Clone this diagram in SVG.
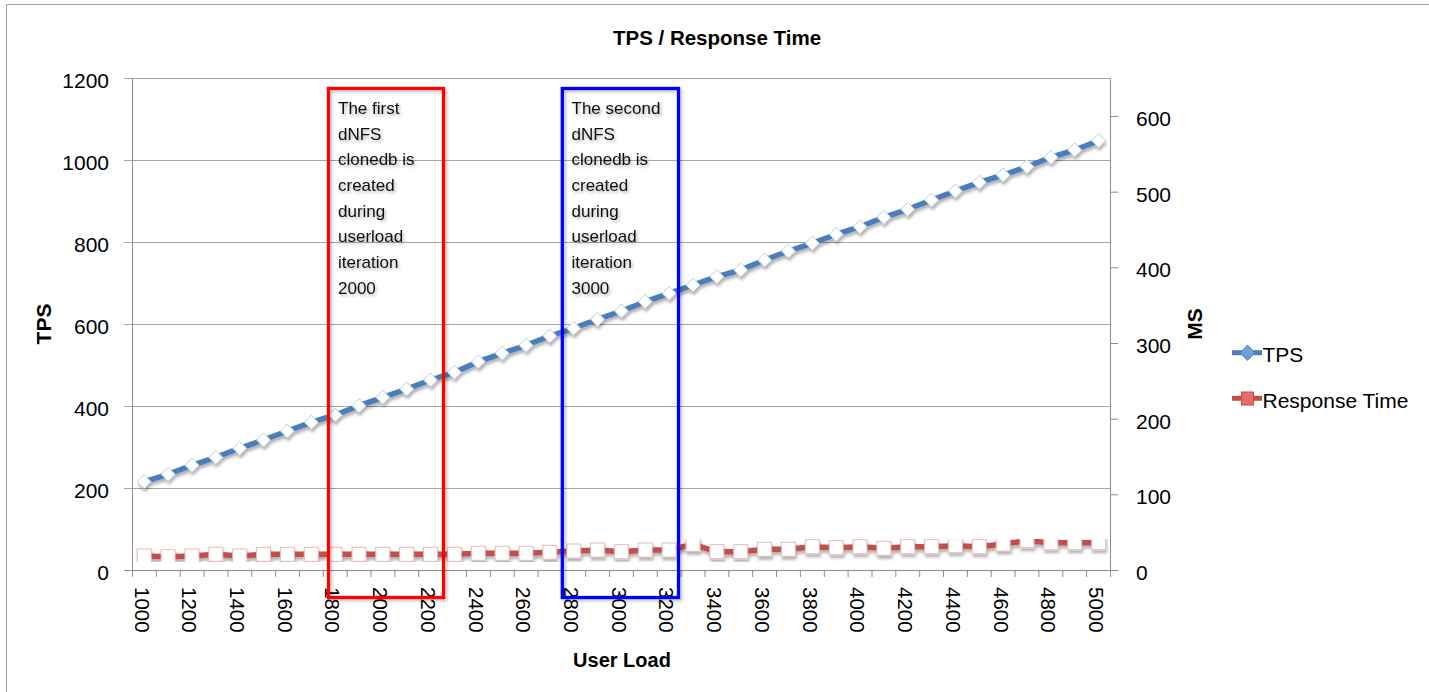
<svg xmlns="http://www.w3.org/2000/svg" width="1429" height="692" viewBox="0 0 1429 692">
<style>
  .grid { stroke: #a6a6a6; stroke-width: 1; fill: none; }
  .axis { stroke: #8c8c8c; stroke-width: 1; fill: none; }
  .tick { font-family: "Liberation Sans", Arial, sans-serif; font-size: 21px; fill: #000; }
  .xt { font-family: "Liberation Sans", Arial, sans-serif; font-size: 20.5px; fill: #000; }
  .ttl { font-family: "Liberation Sans", Arial, sans-serif; font-weight: bold; fill: #000; }
  .note { font-family: "Liberation Sans", Arial, sans-serif; font-size: 17px; fill: #111; }
  .leg { font-family: "Liberation Sans", Arial, sans-serif; font-size: 21px; fill: #000; }
</style>
<defs>
  <filter id="sh" x="-10%" y="-10%" width="130%" height="140%">
    <feDropShadow dx="1" dy="3" stdDeviation="1.5" flood-color="#000" flood-opacity="0.3"/>
  </filter>
  <filter id="bsh" x="-10%" y="-5%" width="130%" height="120%">
    <feDropShadow dx="2" dy="2" stdDeviation="1.5" flood-color="#000" flood-opacity="0.25"/>
  </filter>
  <filter id="tsh" x="-10%" y="-10%" width="130%" height="130%">
    <feDropShadow dx="1.5" dy="2" stdDeviation="1.5" flood-color="#000" flood-opacity="0.3"/>
  </filter>
  <marker id="mDia" markerUnits="userSpaceOnUse" markerWidth="18" markerHeight="18" refX="9" refY="9" overflow="visible">
    <path d="M9,2 L16,9 L9,16 L2,9 Z" fill="#ffffff" stroke="#b9cde5" stroke-width="1"/>
  </marker>
  <marker id="mSq" markerUnits="userSpaceOnUse" markerWidth="18" markerHeight="18" refX="9" refY="9" overflow="visible">
    <rect x="2" y="2" width="14" height="14" fill="#ffffff" stroke="#e6b9b8" stroke-width="1"/>
  </marker>
</defs>

<rect x="0" y="0" width="1429" height="692" fill="#ffffff"/>
<!-- outer border -->
<path d="M6.5,700 L6.5,4.5 L1429,4.5" fill="none" stroke="#a0a0a0" stroke-width="1"/>

<!-- title -->
<text class="ttl" x="717" y="45" font-size="20.5" text-anchor="middle">TPS / Response Time</text>

<!-- grid and axes -->
<g id="grid">
  <path class="grid" d="M124,78.5 H1110.5 M124,160.5 H1110.5 M124,242.5 H1110.5 M124,324.5 H1110.5 M124,406.5 H1110.5 M124,488.5 H1110.5"/>
  <path class="axis" d="M124,570.5 H1110.5 M132.5,78.5 V577 M1110.5,78.5 V577"/>
  <path class="axis" d="M1110.5,570.5 H1118 M1110.5,494.8 H1118 M1110.5,419.2 H1118 M1110.5,343.5 H1118 M1110.5,267.8 H1118 M1110.5,192.2 H1118 M1110.5,116.5 H1118"/>
  <path class="axis" d="M132.5,570.5 V577 M156.4,570.5 V577 M180.2,570.5 V577 M204.1,570.5 V577 M227.9,570.5 V577 M251.8,570.5 V577 M275.6,570.5 V577 M299.5,570.5 V577 M323.3,570.5 V577 M347.2,570.5 V577 M371,570.5 V577 M394.9,570.5 V577 M418.7,570.5 V577 M442.6,570.5 V577 M466.4,570.5 V577 M490.3,570.5 V577 M514.2,570.5 V577 M538,570.5 V577 M561.9,570.5 V577 M585.7,570.5 V577 M609.6,570.5 V577 M633.4,570.5 V577 M657.3,570.5 V577 M681.1,570.5 V577 M705,570.5 V577 M728.8,570.5 V577 M752.7,570.5 V577 M776.5,570.5 V577 M800.4,570.5 V577 M824.3,570.5 V577 M848.1,570.5 V577 M872,570.5 V577 M895.8,570.5 V577 M919.7,570.5 V577 M943.5,570.5 V577 M967.4,570.5 V577 M991.2,570.5 V577 M1015.1,570.5 V577 M1038.9,570.5 V577 M1062.8,570.5 V577 M1086.6,570.5 V577"/>
</g>

<!-- left axis labels -->
<g id="left-axis" class="tick" text-anchor="end">
  <text x="109" y="88">1200</text>
  <text x="109" y="170">1000</text>
  <text x="109" y="252">800</text>
  <text x="109" y="334">600</text>
  <text x="109" y="416">400</text>
  <text x="109" y="498">200</text>
  <text x="109" y="580">0</text>
</g>
<text class="ttl" font-size="21" text-anchor="middle" transform="translate(51,324) rotate(-90)">TPS</text>

<!-- right axis labels -->
<g id="right-axis" class="tick">
  <text x="1136" y="580">0</text>
  <text x="1136" y="504.3">100</text>
  <text x="1136" y="428.7">200</text>
  <text x="1136" y="353">300</text>
  <text x="1136" y="277.3">400</text>
  <text x="1136" y="201.7">500</text>
  <text x="1136" y="126">600</text>
</g>
<text class="ttl" font-size="21" text-anchor="middle" transform="translate(1201.5,324) rotate(-90)">MS</text>

<!-- x axis labels -->
<g id="x-axis" class="xt">
  <text transform="translate(134.5,587) rotate(90)">1000</text>
  <text transform="translate(182.3,587) rotate(90)">1200</text>
  <text transform="translate(230,587) rotate(90)">1400</text>
  <text transform="translate(277.7,587) rotate(90)">1600</text>
  <text transform="translate(325.4,587) rotate(90)">1800</text>
  <text transform="translate(373.1,587) rotate(90)">2000</text>
  <text transform="translate(420.8,587) rotate(90)">2200</text>
  <text transform="translate(468.6,587) rotate(90)">2400</text>
  <text transform="translate(516.3,587) rotate(90)">2600</text>
  <text transform="translate(564,587) rotate(90)">2800</text>
  <text transform="translate(611.7,587) rotate(90)">3000</text>
  <text transform="translate(659.4,587) rotate(90)">3200</text>
  <text transform="translate(707.2,587) rotate(90)">3400</text>
  <text transform="translate(754.9,587) rotate(90)">3600</text>
  <text transform="translate(802.6,587) rotate(90)">3800</text>
  <text transform="translate(850.3,587) rotate(90)">4000</text>
  <text transform="translate(898,587) rotate(90)">4200</text>
  <text transform="translate(945.7,587) rotate(90)">4400</text>
  <text transform="translate(993.5,587) rotate(90)">4600</text>
  <text transform="translate(1041.2,587) rotate(90)">4800</text>
  <text transform="translate(1088.9,587) rotate(90)">5000</text>
</g>
<text class="ttl" font-size="20" x="622" y="667" text-anchor="middle">User Load</text>

<!-- series -->
<g id="connectors">
  <g id="series-response" filter="url(#sh)">
    <polyline fill="none" stroke="#c0504d" stroke-width="5.5" stroke-linejoin="round" marker-start="url(#mSq)" marker-mid="url(#mSq)" marker-end="url(#mSq)"
      points="144.2,556 168.1,556.7 192,556 215.8,554.3 239.7,556 263.5,554.3 287.4,554.3 311.3,554.3 335.1,554.3 359,554.3 382.8,554.3 406.7,554.3 430.5,554.3 454.4,554.3 478.3,553.3 502.1,553.3 526,553.3 549.8,552.3 573.7,551 597.6,550 621.4,551.7 645.3,550 669.1,550 693,544.3 716.9,551.7 740.7,551.7 764.6,549.3 788.4,549.3 812.3,546.7 836.2,547.7 860,546.7 883.9,548.3 907.7,546.7 931.6,546.7 955.4,545.7 979.3,546.7 1003.2,544 1027,540.7 1050.9,542.7 1074.7,542.7 1098.6,542.7"/>
  </g>
  <g id="series-tps" filter="url(#sh)">
    <polyline fill="none" stroke="#4a7ebb" stroke-width="5.5" stroke-linejoin="round" marker-start="url(#mDia)" marker-mid="url(#mDia)" marker-end="url(#mDia)"
      points="144.2,481.7 168.1,474.3 192,465.3 215.8,457.3 239.7,448.3 263.5,440 287.4,431 311.3,422.3 335.1,415 359,405.7 382.8,397.3 406.7,389 430.5,380 454.4,372.3 478.3,361.7 502.1,353.3 526,345.3 549.8,336 573.7,328.3 597.6,319.3 621.4,311 645.3,301.7 669.1,293.3 693,285 716.9,276.7 740.7,270 764.6,260 788.4,251 812.3,243.3 836.2,234.3 860,226.7 883.9,217.3 907.7,209.3 931.6,200 955.4,191 979.3,182.3 1003.2,175 1027,166.7 1050.9,157.3 1074.7,150 1098.6,140.7"/>
  </g>
</g>

<!-- annotation boxes -->
<g id="box-first">
  <rect x="328.5" y="88.5" width="115" height="509" fill="none" stroke="#ff0000" stroke-width="3.3" filter="url(#bsh)"/>
  <g class="note" filter="url(#tsh)">
    <text x="338" y="114">The first</text>
    <text x="338" y="139.5">dNFS</text>
    <text x="338" y="165">clonedb is</text>
    <text x="338" y="191">created</text>
    <text x="338" y="216.5">during</text>
    <text x="338" y="242.3">userload</text>
    <text x="338" y="268">iteration</text>
    <text x="338" y="293.5">2000</text>
  </g>
</g>
<g id="box-second">
  <rect x="562.3" y="88.5" width="116.2" height="509" fill="none" stroke="#0000ff" stroke-width="3.3" filter="url(#bsh)"/>
  <g class="note" filter="url(#tsh)">
    <text x="571.5" y="114">The second</text>
    <text x="571.5" y="139.5">dNFS</text>
    <text x="571.5" y="165">clonedb is</text>
    <text x="571.5" y="191">created</text>
    <text x="571.5" y="216.5">during</text>
    <text x="571.5" y="242.3">userload</text>
    <text x="571.5" y="268">iteration</text>
    <text x="571.5" y="293.5">3000</text>
  </g>
</g>

<!-- legend -->
<g id="legend">
  <g id="legend-tps">
    <line x1="1232" y1="352.7" x2="1262" y2="352.7" stroke="#4a7ebb" stroke-width="5"/>
    <path d="M1247.5,345 L1255,352.7 L1247.5,360.4 L1240,352.7 Z" fill="#6f9fd8" stroke="#4a7ebb" stroke-width="1"/>
    <text class="leg" x="1262.5" y="361.5">TPS</text>
  </g>
  <g id="legend-response">
    <line x1="1232" y1="398.3" x2="1262" y2="398.3" stroke="#c0504d" stroke-width="5"/>
    <rect x="1241.5" y="392" width="12" height="13" fill="#e46c6a" stroke="#c0504d" stroke-width="1"/>
    <text class="leg" x="1262.5" y="407.5">Response Time</text>
  </g>
</g>
</svg>
